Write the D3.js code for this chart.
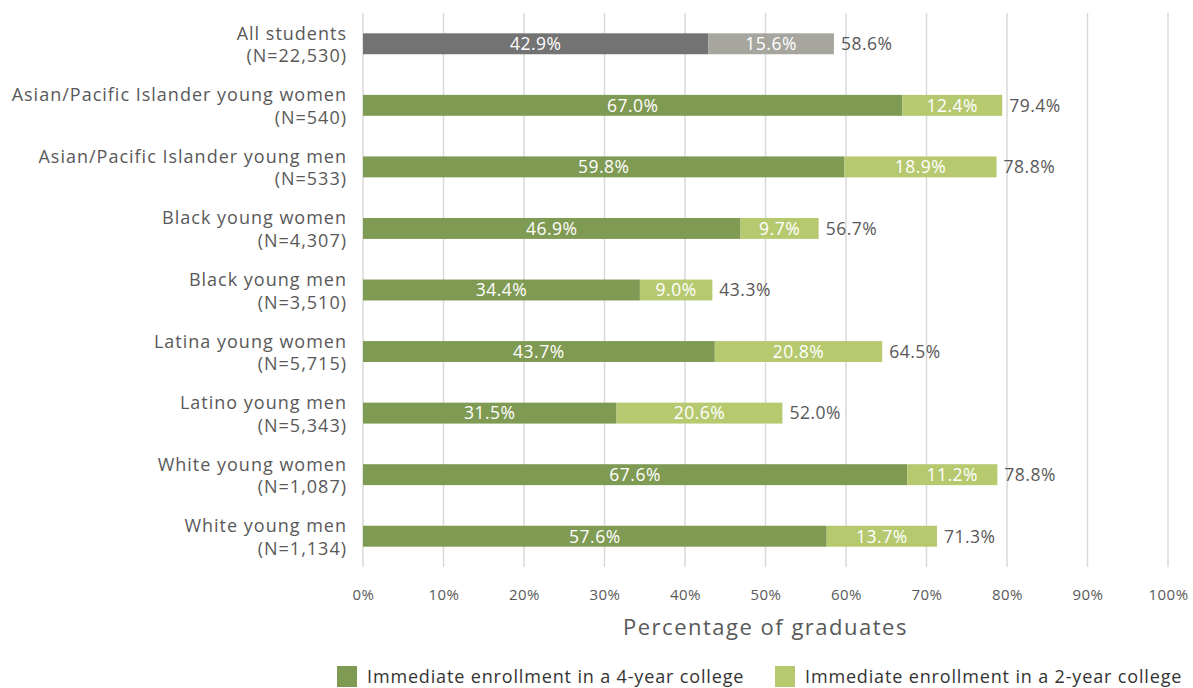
<!DOCTYPE html>
<html><head><meta charset="utf-8">
<script src="https://cdn.jsdelivr.net/npm/d3@7"></script>
<style>body{margin:0;background:#fff;} text{font-family:"Open Sans", Lato, sans-serif;}</style>
</head><body>
<svg id="c" width="1193" height="688"></svg>
<script>
const categories = ["All students","Asian/Pacific Islander young women","Asian/Pacific Islander young men","Black young women","Black young men","Latina young women","Latino young men","White young women","White young men"];
const counts = ["N=22,530","N=540","N=533","N=4,307","N=3,510","N=5,715","N=5,343","N=1,087","N=1,134"];
const fourYear = [42.9,67.0,59.8,46.9,34.4,43.7,31.5,67.6,57.6];
const twoYear = [15.6,12.4,18.9,9.7,9.0,20.8,20.6,11.2,13.7];
const totals = [58.6,79.4,78.8,56.7,43.3,64.5,52.0,78.8,71.3];
const xTicks = [0,10,20,30,40,50,60,70,80,90,100];
const legendLabels = ["Immediate enrollment in a 4-year college","Immediate enrollment in a 2-year college"];

const svg = d3.select("#c");
const pLeft = 363, pRight = 1168, pTop = 13, pBottom = 567;
const x = d3.scaleLinear().domain([0,100]).range([pLeft,pRight]);
const y = d3.scaleBand().domain(categories).range([pTop,pBottom]).paddingInner(0.66).paddingOuter(0.33);

const c4 = (i)=> i===0 ? "#737373" : "#7f9a52";
const c2 = (i)=> i===0 ? "#a6a59e" : "#b6c96f";
const textGray = "#595959";

// gridlines
svg.append("g").selectAll("line").data(xTicks).join("line")
  .attr("x1",d=>x(d)).attr("x2",d=>x(d)).attr("y1",pTop).attr("y2",pBottom)
  .attr("stroke","#d9d9d9").attr("stroke-width",1.5);

// axis tick labels
const ax = svg.append("g").attr("transform",`translate(0,${pBottom})`)
  .call(d3.axisBottom(x).tickValues(xTicks).tickFormat(d=>d+"%").tickSize(0).tickPadding(22));
ax.select(".domain").remove();
ax.selectAll("text").attr("fill",textGray).style("font-size","15px").style("letter-spacing","0.5px")
  .style("font-family","'Open Sans', sans-serif");

const rows = svg.append("g").selectAll("g").data(categories).join("g");
rows.append("rect").attr("x",x(0)).attr("y",d=>y(d)).attr("height",y.bandwidth())
  .attr("width",(d,i)=>x(fourYear[i])-x(0)).attr("fill",(d,i)=>c4(i));
rows.append("rect").attr("x",(d,i)=>x(fourYear[i])).attr("y",d=>y(d)).attr("height",y.bandwidth())
  .attr("width",(d,i)=>x(fourYear[i]+twoYear[i])-x(fourYear[i])).attr("fill",(d,i)=>c2(i));
const valStyle = sel => sel.attr("dy","0.36em").style("font-size","17.5px").style("letter-spacing","0.5px");
rows.append("text").attr("x",(d,i)=>(x(0)+x(fourYear[i]))/2).attr("y",d=>y(d)+y.bandwidth()/2)
  .attr("text-anchor","middle").attr("fill","#fff").call(valStyle)
  .text((d,i)=>fourYear[i].toFixed(1)+"%");
rows.append("text").attr("x",(d,i)=>(x(fourYear[i])+x(fourYear[i]+twoYear[i]))/2).attr("y",d=>y(d)+y.bandwidth()/2)
  .attr("text-anchor","middle").attr("fill","#fff").call(valStyle)
  .text((d,i)=>twoYear[i].toFixed(1)+"%");
rows.append("text").attr("x",(d,i)=>x(fourYear[i]+twoYear[i])+7).attr("y",d=>y(d)+y.bandwidth()/2)
  .attr("fill",textGray).call(valStyle)
  .text((d,i)=>totals[i].toFixed(1)+"%");

// category labels
const lab = rows.append("text").attr("text-anchor","end").attr("fill",textGray)
  .style("font-size","18px").style("letter-spacing","1px")
  .attr("y",d=>y(d)+y.bandwidth()/2);
lab.append("tspan").attr("x",347).attr("dy",-4).text(d=>d);
lab.append("tspan").attr("x",347).attr("dy",22.5).text((d,i)=>"("+counts[i]+")");

// axis title
svg.append("text").attr("x",(pLeft+pRight)/2).attr("y",635).attr("text-anchor","middle")
  .attr("fill",textGray).style("font-size","22px").style("letter-spacing","1.5px").text("Percentage of graduates");

// legend
const lg = svg.append("g");
const lx = [337, 775];
legendLabels.forEach((t,i)=>{
  lg.append("rect").attr("x",lx[i]).attr("y",666).attr("width",20).attr("height",21).attr("fill",i===0?"#7f9a52":"#b6c96f");
  lg.append("text").attr("x",lx[i]+30).attr("y",677).attr("dy","0.36em").attr("fill","#333")
    .style("font-size","18px").style("letter-spacing","0.85px").text(t);
});
</script>
</body></html>
